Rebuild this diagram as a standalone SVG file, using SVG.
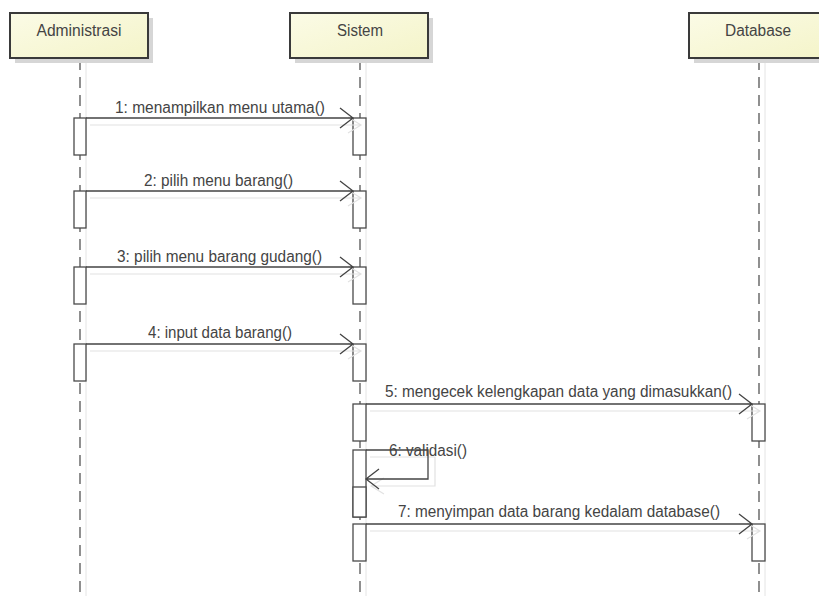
<svg xmlns="http://www.w3.org/2000/svg" width="819" height="596" viewBox="0 0 819 596">
<defs>
<linearGradient id="boxg" x1="0" y1="0" x2="1" y2="1">
<stop offset="0" stop-color="#fbfbe6"/>
<stop offset="1" stop-color="#f4f4c9"/>
</linearGradient>
<style>
.box{fill:url(#boxg);stroke:#3a3a3a;stroke-width:2}
.bshadow{fill:#d6d6d6}
.lbl{font-family:"Liberation Sans",Arial,sans-serif;font-size:16px;fill:#444}
.life{stroke:#555;stroke-width:1.3;stroke-dasharray:11 7;fill:none}
.lifesh{stroke:#e4e4e4;stroke-width:1;fill:none}
.act{fill:#fff;stroke:#4a4a4a;stroke-width:1.3}
.msg{stroke:#444;stroke-width:1.3;fill:none}
.msgsh{stroke:#e2e2e2;stroke-width:1.2;fill:none}
</style>
</defs>
<rect width="819" height="596" fill="#fff"/>
<g id="lifelines">
<line class="lifesh" x1="86" y1="62" x2="86" y2="596"/>
<line class="lifesh" x1="366" y1="62" x2="366" y2="596"/>
<line class="lifesh" x1="765" y1="62" x2="765" y2="596"/>
<line class="life" x1="80" y1="59" x2="80" y2="592"/>
<line class="life" x1="360" y1="59" x2="360" y2="592"/>
<line class="life" x1="759" y1="59" x2="759" y2="592"/>
</g>
<g id="administrasi">
<rect class="bshadow" x="15" y="18" width="138" height="45"/>
<rect class="box" x="10" y="13" width="138" height="45"/>
<text class="lbl" x="79" y="36" text-anchor="middle" textLength="85" lengthAdjust="spacingAndGlyphs">Administrasi</text>
</g>
<g id="sistem">
<rect class="bshadow" x="295" y="18" width="138" height="45"/>
<rect class="box" x="290" y="13" width="138" height="45"/>
<text class="lbl" x="360" y="36" text-anchor="middle" textLength="46" lengthAdjust="spacingAndGlyphs">Sistem</text>
</g>
<g id="database">
<rect class="bshadow" x="694" y="18" width="138" height="45"/>
<rect class="box" x="689" y="13" width="138" height="45"/>
<text class="lbl" x="758" y="36" text-anchor="middle" textLength="66" lengthAdjust="spacingAndGlyphs">Database</text>
</g>
<g id="activations">
<rect class="act" x="74" y="118" width="12" height="37"/>
<rect class="act" x="353" y="118" width="13" height="37"/>
<rect class="act" x="74" y="191" width="12" height="37"/>
<rect class="act" x="353" y="191" width="13" height="37"/>
<rect class="act" x="74" y="267" width="12" height="37"/>
<rect class="act" x="353" y="267" width="13" height="37"/>
<rect class="act" x="74" y="344" width="12" height="37"/>
<rect class="act" x="353" y="344" width="13" height="37"/>
<rect class="act" x="353" y="404" width="13" height="37"/>
<rect class="act" x="752" y="404" width="13" height="37"/>
<rect class="act" x="353" y="450" width="13" height="67"/>
<rect class="act" x="353" y="487" width="13" height="30"/>
<rect class="act" x="353" y="524" width="13" height="37"/>
<rect class="act" x="752" y="524" width="13" height="37"/>
</g>
<g id="connectors">
<g class="msgsh">
<path d="M90 125H360M348 117L361 125L348 133"/>
<path d="M90 198H360M348 190L361 198L348 206"/>
<path d="M90 274H360M348 266L361 274L348 282"/>
<path d="M90 351H360M348 343L361 351L348 359"/>
<path d="M370 411H759M747 403L760 411L747 419"/>
<path d="M370 457H435V486H372M384 478L371 486L384 494"/>
<path d="M370 531H759M747 523L760 531L747 539"/>
</g>
<g class="msg">
<path d="M86 118H353M340 108L353 118L340 128"/>
<path d="M86 191H353M340 181L353 191L340 201"/>
<path d="M86 267H353M340 257L353 267L340 277"/>
<path d="M86 344H353M340 334L353 344L340 354"/>
<path d="M366 404H752M739 394L752 404L739 414"/>
<path d="M366 450H428V479H366M379 469L366 479L379 489"/>
<path d="M366 524H752M739 514L752 524L739 534"/>
</g>
<text class="lbl" x="220" y="113" text-anchor="middle" textLength="210" lengthAdjust="spacingAndGlyphs">1: menampilkan menu utama()</text>
<text class="lbl" x="218.5" y="186" text-anchor="middle" textLength="149" lengthAdjust="spacingAndGlyphs">2: pilih menu barang()</text>
<text class="lbl" x="219.5" y="262" text-anchor="middle" textLength="205" lengthAdjust="spacingAndGlyphs">3: pilih menu barang gudang()</text>
<text class="lbl" x="220" y="338" text-anchor="middle" textLength="144" lengthAdjust="spacingAndGlyphs">4: input data barang()</text>
<text class="lbl" x="558.5" y="397" text-anchor="middle" textLength="347" lengthAdjust="spacingAndGlyphs">5: mengecek kelengkapan data yang dimasukkan()</text>
<text class="lbl" x="389" y="456" textLength="78" lengthAdjust="spacingAndGlyphs">6: validasi()</text>
<text class="lbl" x="559" y="517" text-anchor="middle" textLength="322" lengthAdjust="spacingAndGlyphs">7: menyimpan data barang kedalam database()</text>
</g>
</svg>
